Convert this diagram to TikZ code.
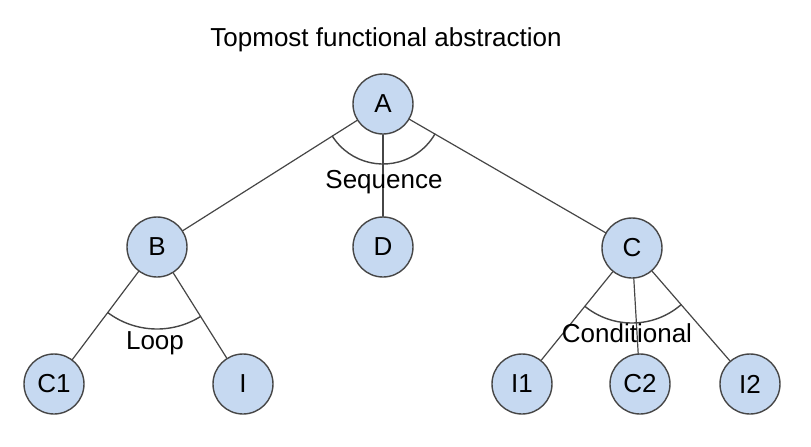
\documentclass[tikz,border=0pt]{standalone}
\usepackage{fontspec}
\setmainfont{Liberation Sans}
\usetikzlibrary{angles}
\definecolor{nodeblue}{RGB}{198,217,241}
\definecolor{rimgray}{RGB}{70,70,70}
\begin{document}
\begin{tikzpicture}[x=0.5pt,y=-0.5pt,line join=round,line cap=round]
        \tikzset{every node/.style={font=\fontsize{13}{15}\selectfont},
            tnode/.style={circle,draw=rimgray,fill=nodeblue,minimum size=30pt,inner sep=0pt,line width=0.7pt},
            branch/.style={draw=rimgray,line width=0.6pt},
            sweep/.style={draw=rimgray,line width=0.7pt}}
        \useasboundingbox (0,0) rectangle (811,446);
        \node (title) at (386,40) {Topmost functional abstraction};
        % tree nodes
        \node[tnode] (A) at (383,104) {A};
        \node[tnode] (B) at (157,247) {B};
        \node[tnode] (D) at (383,247) {D};
        \node[tnode] (C) at (632,248) {C};
        \node[tnode] (C1) at (54,384) {C1};
        \node[tnode] (I) at (243,384) {I};
        \node[tnode] (I1) at (522,384) {I1};
        \node[tnode] (C2) at (640,384) {C2};
        \node[tnode] (I2) at (750,384) {I2};
        \foreach \from/\to in {A/B,A/D,A/C,B/C1,B/I,C/I1,C/C2,C/I2}
        \draw[branch] (\from) -- (\to);
        % arcs and their names
        \pic[sweep,angle radius=30pt] {angle=B--A--C};
        \pic[sweep,angle radius=41pt] {angle=C1--B--I};
        \pic[sweep,angle radius=37.5pt] {angle=I1--C--I2};
        \node (seq) at (384,182) {Sequence};
        \node (loop) at (155,343) {Loop};
        \node (cond) at (627,333) {Conditional};
    \end{tikzpicture}
\end{document}
